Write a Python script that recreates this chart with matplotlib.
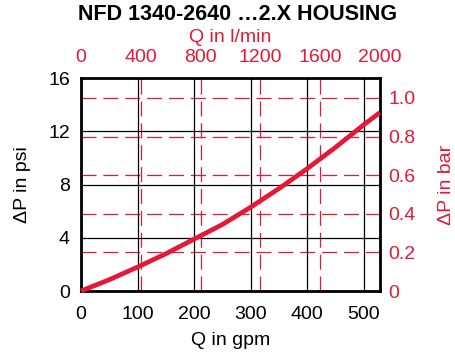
import matplotlib
matplotlib.use("Agg")
import matplotlib.pyplot as plt

plt.rcParams['font.family'] = ['Liberation Sans', 'DejaVu Sans']

# flow in gpm vs pressure drop in psi
flow_gpm = [0, 50, 100, 150, 200, 250, 300, 350, 400, 450, 500, 528]
dp_psi = [0, 0.85, 1.8, 2.8, 3.9, 5.0, 6.3, 7.7, 9.2, 10.8, 12.5, 13.4]

gpm_ticks = [0, 100, 200, 300, 400, 500]
psi_ticks = [0, 4, 8, 12, 16]
lmin_ticks = [0, 400, 800, 1200, 1600, 2000]
bar_ticks = [0, 0.2, 0.4, 0.6, 0.8, 1.0]
bar_labels = ["0", "0.2", "0.4", "0.6", "0.8", "1.0"]

GPM_TO_LMIN = 3.78541
BAR_TO_PSI = 14.5038
red = '#E31937'
fs = 14

fig = plt.figure(figsize=(4.56, 3.53), dpi=100)
ax = fig.add_axes([0.1776, 0.1756, 0.6557, 0.6034])

ax_top = ax.twiny()
ax_right = ax.twinx()
ax.set_zorder(5)
ax.patch.set_visible(False)

xmax = 2000 / GPM_TO_LMIN
ymax = 16
ax.set_xlim(0, xmax)
ax.set_ylim(0, ymax)
ax_top.set_xlim(0, 2000)
ax_right.set_ylim(0, ymax / BAR_TO_PSI)

ax.plot(flow_gpm, dp_psi, color=red, lw=3.4, solid_capstyle='butt', zorder=6, clip_on=False)

ax.set_xticks(gpm_ticks)
ax.set_yticks(psi_ticks)
ax.grid(True, color='black', lw=0.9)
ax.tick_params(axis='x', length=0, labelsize=fs, pad=11)
ax.tick_params(axis='y', length=0, labelsize=fs, pad=8)

ax_top.set_xticks(lmin_ticks)
ax_top.grid(True, axis='x', color=red, lw=0.9, dashes=(12, 5.5))
ax_top.tick_params(length=0, labelsize=fs, labelcolor=red, pad=9)

ax_right.set_yticks(bar_ticks)
ax_right.set_yticklabels(bar_labels)
ax_right.grid(True, axis='y', color=red, lw=0.9, dashes=(12, 5.5))
ax_right.tick_params(length=0, labelsize=fs, labelcolor=red, pad=6)

for a in (ax_top, ax_right):
    for s in a.spines.values():
        s.set_visible(False)
for s in ax.spines.values():
    s.set_linewidth(2.0)
    s.set_color('black')

ax.set_xlabel('Q in gpm', fontsize=fs, labelpad=6)
ax.set_ylabel('ΔP in psi', fontsize=fs, labelpad=12)
ax_top.set_xlabel('Q in l/min', fontsize=fs, color=red, labelpad=5)
ax_right.set_ylabel('ΔP in bar', fontsize=fs, color=red, labelpad=16)

fig.text(0.522, 0.96, 'NFD 1340-2640 …2.X HOUSING', ha='center', va='center',
         fontsize=15.5, fontweight='bold')

fig.savefig('out.png', dpi=100, facecolor='white')
